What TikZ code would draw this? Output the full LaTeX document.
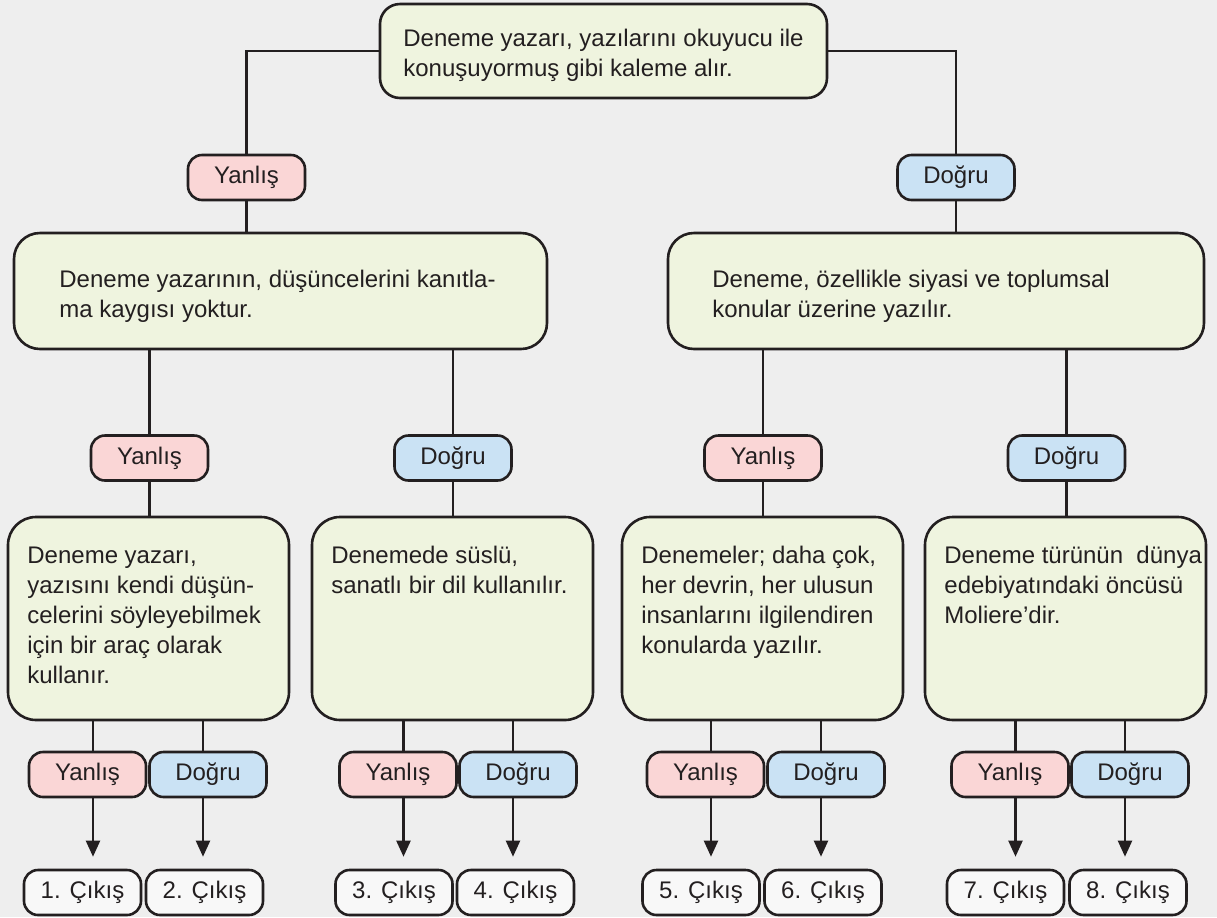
\documentclass[tikz,border=0pt]{standalone}
\usepackage{fontspec}
\setmainfont{Liberation Sans}
\usetikzlibrary{arrows.meta}
\definecolor{zemin}{HTML}{EEEEEE}
\definecolor{murekkep}{HTML}{231F20}
\definecolor{yesil}{HTML}{EFF4DF}
\definecolor{pembe}{HTML}{FAD6D6}
\definecolor{mavi}{HTML}{CAE2F4}
\definecolor{beyaz}{HTML}{F8F8F8}
\tikzset{
	kutu/.style={draw=murekkep, line width=1.3pt, fill=yesil},
	etiket/.style={draw=murekkep, line width=1.3pt, rounded corners=7pt, minimum width=58.5pt, minimum height=22.5pt, inner sep=0pt},
	yanlis/.style={etiket, fill=pembe},
	dogru/.style={etiket, fill=mavi},
	cikis/.style={etiket, fill=beyaz},
	yazi/.style={anchor=north west, align=left, inner sep=0pt},
	hat/.style={draw=murekkep, line width=1.1pt},
	ok/.style={hat, -{Triangle[width=7pt,length=8pt]}, shorten >=6pt},
}
\begin{document}
\begin{tikzpicture}[x=0.5pt, y=-0.5pt, font=\fontsize{12}{15}\selectfont, text=murekkep]
	\fill[zemin] (0,0) rectangle (1217,917);
	\node[kutu, rounded corners=10pt, minimum width=223.5pt, minimum height=47pt] at (603.5,51) (soru) {};
	\node[yazi] at (403,25) (soruyazi) {\strut Deneme yazarı, yazılarını okuyucu ile\\konuşuyormuş gibi kaleme alır.};
	\node[yanlis] at (246.5,177.5) (y1) {Yanlış};
	\node[dogru] at (956,177.5) (d1) {Doğru};
	\node[kutu, rounded corners=13pt, minimum width=266.5pt, minimum height=58pt] at (280.5,291) (b1) {};
	\node[yazi] at (59,266) (b1yazi) {\strut Deneme yazarının, düşüncelerini kanıtla-\\ma kaygısı yoktur.};
	\node[kutu, rounded corners=13pt, minimum width=268pt, minimum height=58pt] at (936,291) (b2) {};
	\node[yazi] at (712,266) (b2yazi) {\strut Deneme, özellikle siyasi ve toplumsal\\konular üzerine yazılır.};
	\node[yanlis] at (149.5,458) (y2) {Yanlış};
	\node[dogru] at (453,458) (d2) {Doğru};
	\node[yanlis] at (763,458) (y3) {Yanlış};
	\node[dogru] at (1066.5,458) (d3) {Doğru};
	\node[kutu, rounded corners=14pt, minimum width=140.5pt, minimum height=101.5pt] at (148.5,618.5) (c1) {};
	\node[kutu, rounded corners=14pt, minimum width=140.5pt, minimum height=101.5pt] at (452.5,618.5) (c2) {};
	\node[kutu, rounded corners=14pt, minimum width=140.5pt, minimum height=101.5pt] at (762.5,618.5) (c3) {};
	\node[kutu, rounded corners=14pt, minimum width=140.5pt, minimum height=101.5pt] at (1065.5,618.5) (c4) {};
	\node[yazi] at (27,542) (c1yazi) {\strut Deneme yazarı,\\yazısını kendi düşün-\\celerini söyleyebilmek\\için bir araç olarak\\kullanır.};
	\node[yazi] at (331,542) (c2yazi) {\strut Denemede süslü,\\sanatlı bir dil kullanılır.};
	\node[yazi] at (641,542) (c3yazi) {\strut Denemeler; daha çok,\\her devrin, her ulusun\\insanlarını ilgilendiren\\konularda yazılır.};
	\node[yazi] at (944,542) (c4yazi) {\strut Deneme türünün~ dünya\\edebiyatındaki öncüsü\\Moliere’dir.};
	\node[yanlis] at (87.5,774.5) (y4) {Yanlış};
	\node[dogru] at (208,774.5) (d4) {Doğru};
	\node[yanlis] at (398,774.5) (y5) {Yanlış};
	\node[dogru] at (518,774.5) (d5) {Doğru};
	\node[yanlis] at (705.5,774.5) (y6) {Yanlış};
	\node[dogru] at (826,774.5) (d6) {Doğru};
	\node[yanlis] at (1010,774.5) (y7) {Yanlış};
	\node[dogru] at (1130,774.5) (d7) {Doğru};
	\node[cikis] at (82.5,892.5) (e1) {1. Çıkış};
	\node[cikis] at (204.5,892.5) (e2) {2. Çıkış};
	\node[cikis] at (394,892.5) (e3) {3. Çıkış};
	\node[cikis] at (515.5,892.5) (e4) {4. Çıkış};
	\node[cikis] at (701,892.5) (e5) {5. Çıkış};
	\node[cikis] at (823,892.5) (e6) {6. Çıkış};
	\node[cikis] at (1005.5,892.5) (e7) {7. Çıkış};
	\node[cikis] at (1128,892.5) (e8) {8. Çıkış};
	\draw[hat] (soru.west) -| (y1.north);
	\draw[hat] (soru.east) -| (d1.north);
	\draw[hat] (y1.south) -- (y1.south |- b1.north);
	\draw[hat] (d1.south) -- (d1.south |- b2.north);
	\draw[hat] (b1.south -| y2.north) -- (y2.north);
	\draw[hat] (b1.south -| d2.north) -- (d2.north);
	\draw[hat] (b2.south -| y3.north) -- (y3.north);
	\draw[hat] (b2.south -| d3.north) -- (d3.north);
	\draw[hat] (y2.south) -- (y2.south |- c1.north);
	\draw[hat] (d2.south) -- (d2.south |- c2.north);
	\draw[hat] (y3.south) -- (y3.south |- c3.north);
	\draw[hat] (d3.south) -- (d3.south |- c4.north);
	\draw[hat] ([xshift=2.75pt]c1.south -| y4.north) -- ([xshift=2.75pt]y4.north);
	\draw[hat] ([xshift=-2.5pt]c1.south -| d4.north) -- ([xshift=-2.5pt]d4.north);
	\draw[hat] ([xshift=2.75pt]c2.south -| y5.north) -- ([xshift=2.75pt]y5.north);
	\draw[hat] ([xshift=-2.5pt]c2.south -| d5.north) -- ([xshift=-2.5pt]d5.north);
	\draw[hat] ([xshift=2.75pt]c3.south -| y6.north) -- ([xshift=2.75pt]y6.north);
	\draw[hat] ([xshift=-2.5pt]c3.south -| d6.north) -- ([xshift=-2.5pt]d6.north);
	\draw[hat] ([xshift=2.75pt]c4.south -| y7.north) -- ([xshift=2.75pt]y7.north);
	\draw[hat] ([xshift=-2.5pt]c4.south -| d7.north) -- ([xshift=-2.5pt]d7.north);
	\draw[ok] ([xshift=2.75pt]y4.south) -- ([xshift=2.75pt]y4.south |- e1.north);
	\draw[ok] ([xshift=-2.5pt]d4.south) -- ([xshift=-2.5pt]d4.south |- e2.north);
	\draw[ok] ([xshift=2.75pt]y5.south) -- ([xshift=2.75pt]y5.south |- e3.north);
	\draw[ok] ([xshift=-2.5pt]d5.south) -- ([xshift=-2.5pt]d5.south |- e4.north);
	\draw[ok] ([xshift=2.75pt]y6.south) -- ([xshift=2.75pt]y6.south |- e5.north);
	\draw[ok] ([xshift=-2.5pt]d6.south) -- ([xshift=-2.5pt]d6.south |- e6.north);
	\draw[ok] ([xshift=2.75pt]y7.south) -- ([xshift=2.75pt]y7.south |- e7.north);
	\draw[ok] ([xshift=-2.5pt]d7.south) -- ([xshift=-2.5pt]d7.south |- e8.north);
\end{tikzpicture}
\end{document}
